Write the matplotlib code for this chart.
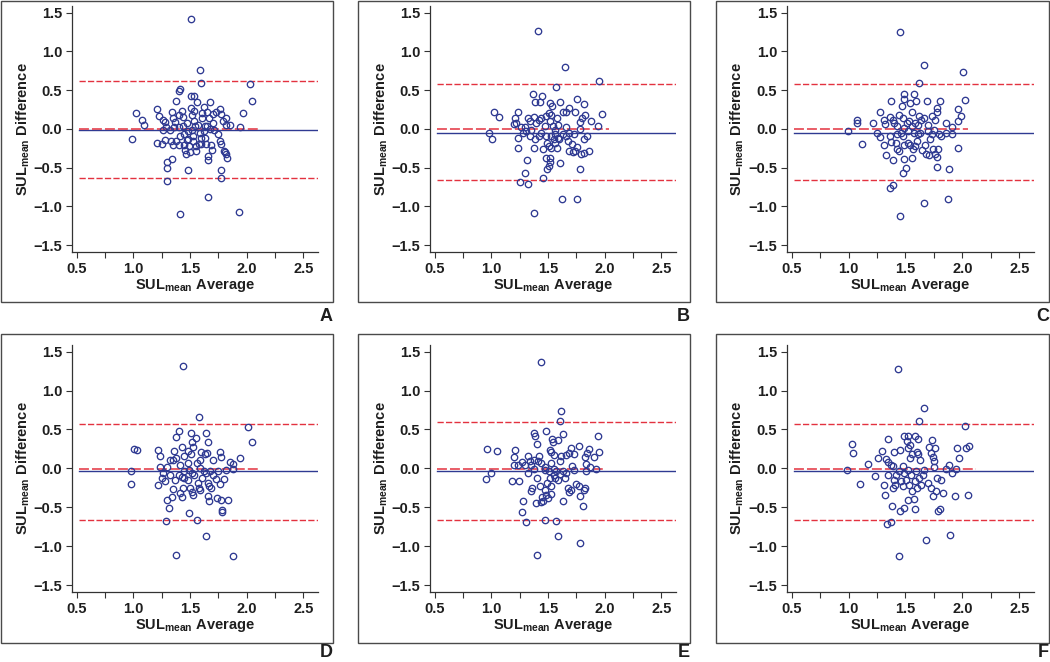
import matplotlib
matplotlib.use("Agg")
import matplotlib.pyplot as plt
from matplotlib.patches import Rectangle
from matplotlib.ticker import MultipleLocator

W, H = 1050, 662

# (SUL_mean average, SUL_mean difference)
a_points = [(1.506, 1.416), (1.588, 0.755), (1.597, 0.597), (2.03, 0.58), (2.05, 0.365), (1.97, 0.21),
            (1.94, 0.03), (1.02, 0.20), (0.99, -0.13), (1.08, 0.12), (1.095, 0.05), (1.21, 0.26),
            (1.23, 0.17), (1.26, 0.12), (1.21, -0.185), (1.25, -0.19), (1.28, 0.09), (1.29, 0.03),
            (1.28, -0.14), (1.30, -0.43), (1.297, -0.51), (1.30, -0.67), (1.34, -0.39), (1.33, -0.16),
            (1.34, 0.22), (1.35, 0.14), (1.36, 0.03), (1.37, 0.09), (1.35, -0.21), (1.38, 0.356),
            (1.40, 0.485), (1.415, 0.515), (1.405, 0.185), (1.40, 0.03), (1.41, -0.09), (1.40, -0.21),
            (1.43, 0.23), (1.435, 0.155), (1.445, -0.07), (1.45, -0.21), (1.46, -0.27), (1.465, -0.32),
            (1.476, 0.077), (1.485, -0.137), (1.485, -0.53), (1.494, -0.22), (1.503, -0.30), (1.505, 0.27),
            (1.515, 0.185), (1.52, -0.01), (1.53, -0.09), (1.53, -0.155), (1.509, 0.43), (1.535, 0.425),
            (1.538, 0.23), (1.54, 0.10), (1.547, 0.035), (1.55, -0.22), (1.553, -0.29), (1.559, 0.343),
            (1.574, 0.056), (1.58, -0.19), (1.60, -0.19), (1.605, 0.14), (1.61, 0.206), (1.625, 0.283),
            (1.63, 0.043), (1.635, -0.115), (1.64, -0.19), (1.647, 0.22), (1.647, 0.035), (1.656, -0.35),
            (1.66, -0.40), (1.66, -0.875), (1.668, 0.14), (1.676, 0.004), (1.686, -0.206), (1.694, -0.27),
            (1.676, 0.343), (1.70, 0.193), (1.706, 0.077), (1.715, -0.017), (1.73, 0.22), (1.75, -0.073),
            (1.765, -0.16), (1.768, 0.26), (1.774, 0.197), (1.776, -0.19), (1.79, 0.10), (1.80, -0.28),
            (1.774, -0.53), (1.774, -0.63), (1.815, 0.056), (1.82, 0.137), (1.81, -0.30), (1.82, -0.33),
            (1.83, -0.375), (1.85, 0.056), (1.93, -1.08), (1.41, -1.10), (1.59, -0.06), (1.62, -0.03),
            (1.48, -0.03), (1.435, 0.034), (1.38, -0.16), (1.32, -0.01), (1.26, -0.017), (1.47, -0.14),
            (1.60, -0.12)]

b_points = [(1.41, 1.26), (1.647, 0.80), (1.95, 0.62), (1.574, 0.545), (1.368, 0.455), (1.45, 0.43),
            (1.385, 0.343), (1.426, 0.343), (1.52, 0.335), (1.61, 0.35), (1.535, 0.29), (1.76, 0.39),
            (1.82, 0.32), (1.02, 0.215), (1.07, 0.155), (1.235, 0.215), (1.206, 0.137), (1.20, 0.064),
            (1.22, 0.077), (1.265, 0.026), (1.30, 0.026), (1.31, -0.03), (1.326, 0.14), (1.34, 0.10),
            (1.35, -0.01), (1.376, 0.155), (1.397, 0.07), (1.42, 0.11), (1.44, 0.14), (1.47, 0.034),
            (1.485, 0.16), (1.51, 0.206), (1.515, 0.10), (1.53, 0.185), (1.544, 0.043), (1.566, -0.02),
            (1.58, 0.14), (1.59, 0.056), (1.632, 0.22), (1.66, 0.215), (1.685, 0.266), (1.656, 0.026),
            (1.74, 0.215), (1.78, 0.086), (1.80, 0.14), (1.83, 0.185), (1.88, 0.10), (1.94, 0.043),
            (1.976, 0.193), (0.98, -0.05), (1.01, -0.133), (1.235, -0.25), (1.24, -0.116), (1.28, -0.05),
            (1.294, -0.566), (1.315, -0.40), (1.326, -0.716), (1.256, -0.687), (1.376, -0.245), (1.374, -1.09),
            (1.456, -0.63), (1.48, -0.094), (1.46, -0.258), (1.49, -0.18), (1.48, -0.373), (1.49, -0.515),
            (1.505, -0.48), (1.51, -0.22), (1.515, -0.43), (1.52, -0.378), (1.53, -0.245), (1.55, -0.137),
            (1.566, -0.18), (1.58, -0.245), (1.59, -0.116), (1.61, -0.446), (1.62, -0.91), (1.76, -0.91),
            (1.632, -0.073), (1.66, -0.094), (1.676, -0.16), (1.685, -0.28), (1.715, -0.193), (1.72, -0.30),
            (1.74, -0.288), (1.76, -0.23), (1.78, -0.515), (1.794, -0.33), (1.82, -0.31), (1.86, -0.28),
            (1.844, -0.086), (1.82, -0.137), (1.785, 0.0), (1.69, -0.05), (1.726, -0.073), (1.42, -0.094),
            (1.44, -0.05), (1.39, -0.137), (1.344, -0.086), (1.53, -0.094), (1.56, -0.073), (1.60, -0.137)]

c_points = [(1.456, 1.253), (1.667, 0.828), (2.007, 0.734), (1.617, 0.592), (1.485, 0.455), (1.576, 0.455),
            (1.49, 0.386), (1.374, 0.365), (1.594, 0.356), (1.688, 0.365), (1.808, 0.36), (2.02, 0.378),
            (1.54, 0.33), (1.47, 0.29), (1.556, 0.22), (1.776, 0.266), (1.96, 0.25), (1.28, 0.215),
            (1.075, 0.11), (1.075, 0.077), (1.215, 0.077), (1.31, 0.11), (1.324, 0.064), (1.367, 0.155),
            (1.39, 0.11), (1.40, 0.07), (1.43, 0.034), (1.44, 0.185), (1.476, 0.14), (1.51, 0.07),
            (1.535, 0.10), (1.556, 0.034), (1.58, 0.077), (1.61, 0.05), (1.623, 0.163), (1.64, 0.12),
            (1.667, 0.14), (1.696, 0.056), (1.73, 0.17), (1.76, 0.12), (1.78, 0.215), (1.857, 0.07),
            (1.913, 0.026), (1.987, 0.163), (1.96, 0.10), (0.993, -0.034), (1.12, -0.19), (1.248, -0.05),
            (1.28, -0.10), (1.31, -0.206), (1.33, -0.343), (1.36, -0.086), (1.37, -0.17), (1.39, -0.40),
            (1.36, -0.76), (1.394, -0.725), (1.418, -0.18), (1.427, -0.258), (1.447, -0.288), (1.456, -1.124),
            (1.462, -0.06), (1.48, -0.094), (1.485, -0.215), (1.485, -0.386), (1.476, -0.566), (1.506, -0.50),
            (1.52, -0.18), (1.54, -0.215), (1.556, -0.373), (1.57, -0.266), (1.585, -0.223), (1.60, -0.16),
            (1.614, -0.073), (1.63, -0.05), (1.643, -0.275), (1.667, -0.953), (1.673, -0.215), (1.68, -0.33),
            (1.708, -0.343), (1.72, -0.137), (1.73, -0.073), (1.743, -0.258), (1.76, -0.33), (1.78, -0.36),
            (1.78, -0.49), (1.79, -0.258), (1.796, -0.073), (1.81, -0.094), (1.887, -0.524), (1.872, -0.90),
            (1.966, -0.245), (1.91, -0.073), (1.857, -0.05), (1.52, -0.03), (1.573, -0.05), (1.696, -0.03),
            (1.755, -0.01), (1.49, 0.013), (1.43, -0.073)]

d_points = [(1.435, 1.32), (1.58, 0.657), (2.015, 0.53), (2.044, 0.343), (1.406, 0.476), (1.38, 0.40),
            (1.51, 0.455), (1.553, 0.39), (1.52, 0.343), (1.64, 0.46), (1.656, 0.343), (1.43, 0.28),
            (1.53, 0.28), (1.003, 0.25), (1.03, 0.23), (1.218, 0.236), (1.235, 0.163), (1.36, 0.227),
            (1.376, 0.133), (1.32, 0.11), (1.35, 0.11), (1.45, 0.163), (1.48, 0.22), (1.51, 0.185),
            (1.60, 0.21), (1.63, 0.185), (1.65, 0.197), (1.765, 0.21), (1.77, 0.146), (1.94, 0.13),
            (1.85, 0.077), (1.88, 0.06), (1.70, 0.11), (1.588, 0.11), (1.56, 0.069), (1.485, 0.069),
            (1.41, 0.047), (1.294, 0.013), (1.235, 0.013), (0.976, -0.04), (0.976, -0.206), (1.218, -0.22),
            (1.25, -0.124), (1.28, -0.167), (1.294, -0.403), (1.29, -0.68), (1.315, -0.51), (1.338, -0.365),
            (1.35, -0.26), (1.37, -0.146), (1.405, -0.08), (1.41, -0.318), (1.43, -0.365), (1.44, -0.25),
            (1.45, -0.124), (1.48, -0.146), (1.49, -0.575), (1.50, -0.253), (1.52, -0.31), (1.53, -0.348),
            (1.54, -0.08), (1.56, -0.66), (1.568, -0.19), (1.58, -0.253), (1.588, -0.275), (1.603, -0.124),
            (1.62, -0.04), (1.64, -0.06), (1.644, -0.876), (1.656, -0.19), (1.66, -0.36), (1.668, -0.23),
            (1.668, -0.425), (1.69, -0.253), (1.70, -0.08), (1.73, -0.133), (1.74, -0.38), (1.765, -0.20),
            (1.77, -0.403), (1.78, -0.53), (1.785, -0.56), (1.80, -0.137), (1.815, -0.017), (1.84, -0.403),
            (1.88, -0.004), (1.38, -1.12), (1.88, -1.13), (1.45, -0.04), (1.49, -0.017), (1.52, -0.06),
            (1.59, 0.004), (1.68, -0.04), (1.75, -0.04), (1.32, -0.08), (1.26, -0.06), (1.43, -0.116)]

e_points = [(1.44, 1.37), (1.618, 0.743), (1.603, 0.614), (1.485, 0.485), (1.632, 0.442), (1.38, 0.455),
            (1.385, 0.42), (1.94, 0.41), (1.54, 0.38), (1.59, 0.365), (1.544, 0.335), (1.406, 0.318),
            (0.965, 0.245), (1.047, 0.223), (1.21, 0.232), (1.197, 0.146), (1.197, 0.039), (1.235, 0.047),
            (1.27, 0.077), (1.30, 0.047), (1.32, 0.155), (1.34, 0.099), (1.35, 0.047), (1.376, 0.11),
            (1.41, 0.099), (1.42, 0.155), (1.44, 0.069), (1.47, 0.017), (1.515, 0.236), (1.53, 0.21),
            (1.53, 0.069), (1.55, 0.167), (1.603, 0.099), (1.618, 0.155), (1.656, 0.167), (1.69, 0.197),
            (1.706, 0.26), (1.726, 0.185), (1.715, 0.034), (1.774, 0.283), (1.86, 0.253), (1.847, 0.197),
            (1.83, 0.15), (1.906, 0.142), (1.95, 0.21), (1.873, 0.013), (1.92, -0.009), (1.84, 0.06),
            (0.95, -0.137), (1.0, -0.064), (1.182, -0.167), (1.244, -0.167), (1.28, -0.425), (1.273, -0.566),
            (1.31, -0.695), (1.32, -0.06), (1.35, -0.296), (1.36, -0.253), (1.397, -0.446), (1.403, -0.124),
            (1.426, -0.223), (1.435, -0.433), (1.447, -0.37), (1.46, -0.416), (1.47, -0.66), (1.476, -0.275),
            (1.485, -0.34), (1.50, -0.38), (1.494, -0.19), (1.515, -0.124), (1.524, -0.33), (1.53, -0.232),
            (1.55, -0.08), (1.565, -0.124), (1.574, -0.674), (1.59, -0.876), (1.40, -1.12), (1.78, -0.96),
            (1.574, -0.04), (1.59, -0.146), (1.61, -0.073), (1.632, -0.425), (1.647, -0.124), (1.662, -0.06),
            (1.68, -0.253), (1.69, -0.305), (1.70, -0.275), (1.726, -0.017), (1.75, -0.20), (1.774, -0.232),
            (1.785, -0.36), (1.81, -0.49), (1.82, -0.275), (1.83, -0.253), (1.84, -0.04), (1.47, -0.017),
            (1.51, -0.04), (1.632, -0.03), (1.38, -0.004), (1.55, -0.004)]

f_points = [(1.433, 1.283), (1.667, 0.777), (1.617, 0.614), (2.025, 0.54), (1.345, 0.378), (1.49, 0.41),
            (1.52, 0.41), (1.58, 0.42), (1.51, 0.348), (1.544, 0.305), (1.61, 0.373), (1.73, 0.365),
            (1.708, 0.279), (1.76, 0.266), (2.034, 0.262), (2.055, 0.283), (1.95, 0.262), (1.03, 0.313),
            (1.04, 0.197), (1.29, 0.227), (1.257, 0.133), (1.17, 0.056), (1.33, 0.124), (1.345, 0.08),
            (1.397, 0.21), (1.456, 0.236), (1.52, 0.262), (1.556, 0.185), (1.544, 0.133), (1.60, 0.21),
            (1.61, 0.185), (1.63, 0.103), (1.726, 0.197), (1.74, 0.142), (1.755, 0.099), (1.75, 0.017),
            (1.887, 0.039), (1.97, 0.129), (1.945, -0.004), (1.857, -0.004), (1.374, 0.047), (1.39, 0.026),
            (1.476, 0.026), (0.984, -0.02), (1.104, -0.20), (1.236, -0.094), (1.31, -0.22), (1.32, -0.34),
            (1.34, -0.717), (1.374, -0.69), (1.38, -0.49), (1.39, -0.253), (1.403, -0.146), (1.41, -0.21),
            (1.45, -0.553), (1.462, -0.167), (1.476, -0.232), (1.49, -0.51), (1.506, -0.146), (1.52, -0.403),
            (1.53, -0.21), (1.55, -0.08), (1.56, -0.296), (1.573, -0.395), (1.58, -0.167), (1.588, -0.524),
            (1.60, -0.253), (1.623, -0.124), (1.64, -0.21), (1.652, -0.08), (1.685, -0.918), (1.44, -1.133),
            (1.696, -0.19), (1.726, -0.253), (1.746, -0.352), (1.776, -0.124), (1.784, -0.545), (1.805, -0.524),
            (1.814, -0.146), (1.828, -0.318), (1.77, -0.288), (1.896, -0.854), (1.94, -0.36), (2.05, -0.348),
            (1.908, -0.06), (1.447, -0.04), (1.49, -0.06), (1.52, -0.017), (1.594, -0.04), (1.667, -0.017),
            (1.345, -0.08), (1.418, -0.08)]

panel_letters = ["A", "B", "C", "D", "E", "F"]
mean_diff = [-0.013, -0.05, -0.05, -0.04, -0.04, -0.04]
upper_loa = [0.614, 0.575, 0.575, 0.575, 0.59, 0.575]
lower_loa = [-0.64, -0.665, -0.665, -0.665, -0.665, -0.665]
ref_level = [0.0, 0.0, 0.0, -0.01, -0.01, -0.01]
ref_end = [2.10, 2.04, 2.05, 2.11, 1.99, 2.12]

x_ticks = [0.5, 1.0, 1.5, 2.0, 2.5]
y_ticks = [-1.5, -1.0, -0.5, 0.0, 0.5, 1.0, 1.5]

BLUE = "#2f3a92"
RED = "#e3323f"
INK = "#1e1e1e"

plt.rcParams["font.family"] = ["Liberation Sans", "DejaVu Sans"]
plt.rcParams["font.weight"] = "bold"
plt.rcParams["mathtext.fontset"] = "custom"
plt.rcParams["mathtext.rm"] = "Liberation Sans:bold"
plt.rcParams["mathtext.bf"] = "Liberation Sans:bold"


def fig_rect(l, t, r, b):
    return [l / W, 1 - b / H, (r - l) / W, (b - t) / H]


fig = plt.figure(figsize=(W / 100, H / 100), dpi=100)

axes_cols = [(72, 318), (430, 676), (787, 1034)]
axes_rows = [(6, 252), (345, 592)]
box_cols = [(1, 333), (358, 690), (716, 1049)]
box_rows = [(1, 302), (334, 643)]

all_points = [a_points, b_points, c_points, d_points, e_points, f_points]

for i, pts in enumerate(all_points):
    r, c = divmod(i, 3)
    (al, ar), (at, ab) = axes_cols[c], axes_rows[r]
    (bl, br), (bt, bb) = box_cols[c], box_rows[r]

    # panel frame + letter under its right corner
    l, bot, w, h = fig_rect(bl, bt, br, bb)
    fig.add_artist(Rectangle((l, bot), w, h, transform=fig.transFigure,
                             fill=False, ec="#4a4a4a", lw=1.0))
    base = min(bb + 19, H - 5)
    fig.text(br / W, 1 - base / H, panel_letters[i], ha="right", va="baseline",
             fontsize=13, weight="bold", color=INK)

    ax = fig.add_axes(fig_rect(al, at, ar, ab))
    ax.patch.set_alpha(0)
    xs = [p[0] for p in pts]
    ys = [p[1] for p in pts]

    x0, x1 = 0.52, 2.63
    ax.plot([x0, x1], [mean_diff[i]] * 2, color=BLUE, lw=1.0, zorder=2)
    ax.plot([x0, ref_end[i]], [ref_level[i]] * 2, color=RED, lw=1.1,
            ls=(0, (6.5, 2.0)), zorder=3)
    ax.plot([x0, x1], [upper_loa[i]] * 2, color=RED, lw=1.0, ls=(0, (4.5, 1.6)), zorder=2)
    ax.plot([x0, x1], [lower_loa[i]] * 2, color=RED, lw=1.0, ls=(0, (4.5, 1.6)), zorder=2)
    ax.plot(xs, ys, ls="none", marker="o", ms=4.6, mfc="none", mec=BLUE, mew=0.95, zorder=4)

    ax.set_xlim(0.459, 2.63)
    ax.set_ylim(-1.59, 1.586)
    for s in ("top", "right"):
        ax.spines[s].set_visible(False)
    for s in ("left", "bottom"):
        ax.spines[s].set_color("#333333")
        ax.spines[s].set_linewidth(0.9)

    ax.set_xticks(x_ticks)
    ax.set_xticklabels([f"{v:.1f}" for v in x_ticks])
    ax.xaxis.set_minor_locator(MultipleLocator(0.25))
    ax.set_yticks(y_ticks)
    ax.set_yticklabels([f"{v:.1f}".replace("-", "\u2212") for v in y_ticks])
    ax.tick_params(which="both", length=4.5, width=0.8, color="#333333",
                   labelsize=10.5, labelcolor=INK, pad=2.5)

    ax.set_ylabel(r"$\mathbf{SUL}_{\mathbf{mean}}$ Difference", fontsize=10.5,
                  weight="bold", color=INK, va="center")
    ax.yaxis.set_label_coords(-0.2, 0.5)
    ax.set_xlabel(r"$\mathbf{SUL}_{\mathbf{mean}}$ Average", fontsize=10.5,
                  weight="bold", color=INK, va="top")
    ax.xaxis.set_label_coords(0.5, -0.1)

fig.savefig("out.png", dpi=100)
